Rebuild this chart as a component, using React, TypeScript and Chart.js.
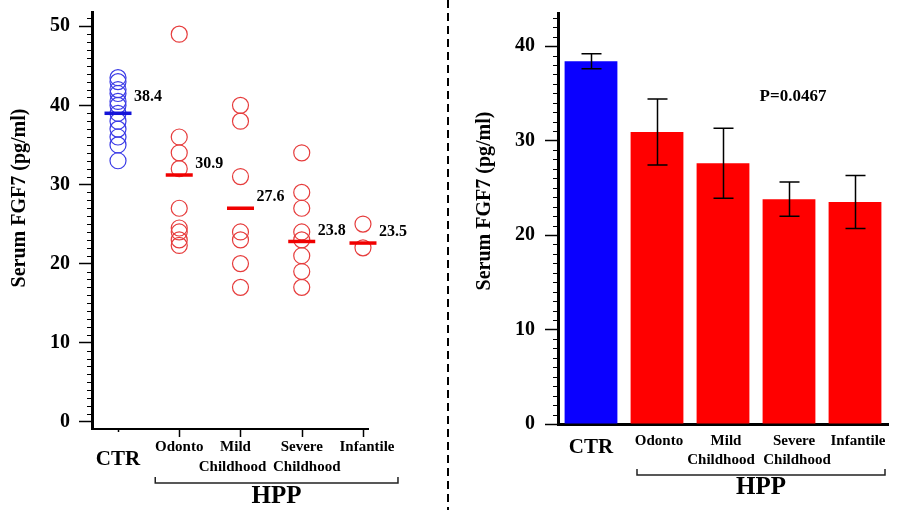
import React, { useEffect, useRef } from "react";
import { Chart, registerables } from "chart.js";

Chart.register(...registerables);

// ---------- data ----------
const groups = ["CTR", "Odonto", "Mild Childhood", "Severe Childhood", "Infantile"];
const groupLabelLines = [["CTR"], ["Odonto"], ["Mild", "Childhood"], ["Severe", "Childhood"], ["Infantile"]];
const hppLabel = "HPP";
const yTitle = "Serum FGF7 (pg/ml)";

const ctrValues = [43.5, 43, 42, 41.5, 40.5, 40, 39, 38, 37, 36, 35, 33];
const odontoValues = [49, 36, 34, 32, 27, 24.5, 24, 23, 22.3];
const mildValues = [40, 38, 31, 24, 23, 20, 17];
const severeValues = [34, 29, 27, 24, 23, 21, 19, 17];
const infantileValues = [25, 22];

const meanLineLevels = [39.0, 31.2, 27.0, 22.8, 22.6];
const barMeans = [38.4, 30.9, 27.6, 23.8, 23.5];
const barSEM = [0.8, 3.5, 3.7, 1.8, 2.8];
const pValueText = "P=0.0467";

const yTicksLeft = [0, 10, 20, 30, 40, 50];
const yTicksRight = [0, 10, 20, 30, 40];

// ---------- styles ----------
const FONT = '"Liberation Serif", "Times New Roman", serif';
const BLUE_PT = "#3a3ae6";
const RED_PT = "#e63c3c";
const BLUE_LINE = "#1414d8";
const RED_LINE = "#f00000";
const BLUE_BAR = "#0a00ff";
const RED_BAR = "#ff0000";

// small horizontal nudges of the label lines (line1, line2), per panel
const labelNudgeLeft = [
  [0, 0],
  [0, 0],
  [-5, -8],
  [0, 5],
  [4, 0],
];
const labelNudgeRight = [
  [0, 0],
  [2, 0],
  [3, -2],
  [5, 8],
  [3, 0],
];

function drawMinorTicks(chart: any, ctx: CanvasRenderingContext2D) {
  const y = chart.scales.y;
  const x0 = chart.chartArea.left;
  ctx.save();
  ctx.strokeStyle = "#000";
  ctx.lineWidth = 1;
  for (let v = Math.ceil(y.min); v <= Math.floor(y.max); v++) {
    if (v % 10 === 0) continue;
    const py = Math.round(y.getPixelForValue(v)) + 0.5;
    ctx.beginPath();
    ctx.moveTo(x0 - 5, py);
    ctx.lineTo(x0, py);
    ctx.stroke();
  }
  ctx.restore();
}

function drawYTitle(ctx: CanvasRenderingContext2D, cx: number, cy: number) {
  ctx.save();
  ctx.translate(cx, cy);
  ctx.rotate(-Math.PI / 2);
  ctx.font = `bold 20px ${FONT}`;
  ctx.fillStyle = "#000";
  ctx.textAlign = "center";
  ctx.textBaseline = "middle";
  ctx.fillText(yTitle, 0, 0);
  ctx.restore();
}

function drawXLabels(
  chart: any,
  ctx: CanvasRenderingContext2D,
  nudge: number[][],
  ctrY: number,
  line1Y: number,
  line2Y: number,
  bracketY: number,
  hppY: number,
  bracketLeftOff: number,
  bracketRightOff: number
) {
  const x = chart.scales.x;
  ctx.save();
  ctx.fillStyle = "#000";
  ctx.textAlign = "center";
  ctx.textBaseline = "middle";
  groupLabelLines.forEach((lines, i) => {
    const px = x.getPixelForValue(i);
    if (i === 0) {
      ctx.font = `bold 21px ${FONT}`;
      ctx.fillText(lines[0], px, ctrY);
    } else {
      ctx.font = `bold 15px ${FONT}`;
      lines.forEach((t, k) => ctx.fillText(t, px + nudge[i][k], k === 0 ? line1Y : line2Y));
    }
  });
  // bracket
  const bl = x.getPixelForValue(1) - bracketLeftOff;
  const br = x.getPixelForValue(4) + bracketRightOff;
  ctx.strokeStyle = "#222";
  ctx.lineWidth = 1.5;
  ctx.beginPath();
  ctx.moveTo(bl, bracketY - 6);
  ctx.lineTo(bl, bracketY);
  ctx.lineTo(br, bracketY);
  ctx.lineTo(br, bracketY - 6);
  ctx.stroke();
  ctx.font = `bold 25px ${FONT}`;
  ctx.fillText(hppLabel, (bl + br) / 2, hppY);
  ctx.restore();
}

const leftPlugin = {
  id: "leftDecor",
  afterDraw(chart: any) {
    const ctx = chart.ctx as CanvasRenderingContext2D;
    const x = chart.scales.x;
    const y = chart.scales.y;
    drawMinorTicks(chart, ctx);
    // x tick marks
    ctx.save();
    ctx.strokeStyle = "#000";
    ctx.lineWidth = 1.5;
    const by = chart.chartArea.bottom;
    groups.forEach((_, i) => {
      const px = Math.round(x.getPixelForValue(i)) + 0.5;
      ctx.beginPath();
      ctx.moveTo(px, by);
      ctx.lineTo(px, by + (i === 0 ? 3 : 8));
      ctx.stroke();
    });
    ctx.restore();
    // mean labels
    ctx.save();
    ctx.font = `bold 16px ${FONT}`;
    ctx.fillStyle = "#000";
    ctx.textAlign = "left";
    ctx.textBaseline = "middle";
    barMeans.forEach((m, i) => {
      const px = x.getPixelForValue(i) + 16;
      const py = y.getPixelForValue(meanLineLevels[i]) - (i === 0 ? 16 : 11);
      ctx.fillText(m.toFixed(1), px, py);
    });
    ctx.restore();
    drawYTitle(ctx, 20, 198);
    drawXLabels(chart, ctx, labelNudgeLeft, 460, 447, 467, 483, 497, 24, 35);
  },
};

const rightPlugin = {
  id: "rightDecor",
  afterDatasetsDraw(chart: any) {
    const ctx = chart.ctx as CanvasRenderingContext2D;
    const x = chart.scales.x;
    const y = chart.scales.y;
    ctx.save();
    ctx.strokeStyle = "#000";
    ctx.lineWidth = 1.5;
    barMeans.forEach((m, i) => {
      const px = Math.round(x.getPixelForValue(i)) + 0.5;
      const top = y.getPixelForValue(m + barSEM[i]);
      const bot = y.getPixelForValue(m - barSEM[i]);
      ctx.beginPath();
      ctx.moveTo(px, top);
      ctx.lineTo(px, bot);
      ctx.moveTo(px - 10, top);
      ctx.lineTo(px + 10, top);
      ctx.moveTo(px - 10, bot);
      ctx.lineTo(px + 10, bot);
      ctx.stroke();
    });
    ctx.restore();
  },
  afterDraw(chart: any) {
    const ctx = chart.ctx as CanvasRenderingContext2D;
    const x = chart.scales.x;
    const y = chart.scales.y;
    drawMinorTicks(chart, ctx);
    ctx.save();
    ctx.font = `bold 17px ${FONT}`;
    ctx.fillStyle = "#000";
    ctx.textAlign = "center";
    ctx.textBaseline = "middle";
    ctx.fillText(pValueText, x.getPixelForValue(3) + 4, y.getPixelForValue(34.6));
    ctx.restore();
    drawYTitle(ctx, 35, 201);
    drawXLabels(chart, ctx, labelNudgeRight, 448, 441, 460, 475, 488, 20, 30);
  },
};

const tickFont = { family: FONT, size: 20, weight: "bold" as const };

function LeftChart() {
  const ref = useRef<HTMLCanvasElement>(null);
  useEffect(() => {
    if (!ref.current) return;
    const hpp = [odontoValues, mildValues, severeValues, infantileValues];
    const hppPoints: { x: number; y: number }[] = [];
    hpp.forEach((arr, gi) => arr.forEach((v) => hppPoints.push({ x: gi + 1, y: v })));
    const chart = new Chart(ref.current, {
      type: "scatter",
      data: {
        datasets: [
          {
            label: "Mean",
            data: meanLineLevels.map((v, i) => ({ x: i, y: v })),
            pointStyle: "line",
            pointRadius: 13.5,
            pointBorderWidth: 3.5,
            pointBorderColor: meanLineLevels.map((_, i) => (i === 0 ? BLUE_LINE : RED_LINE)),
            backgroundColor: "transparent",
            clip: false,
          },
          {
            label: "CTR",
            data: ctrValues.map((v) => ({ x: 0, y: v })),
            pointStyle: "circle",
            pointRadius: 8,
            pointBorderWidth: 1.2,
            pointBorderColor: BLUE_PT,
            pointBackgroundColor: "transparent",
            clip: false,
          },
          {
            label: "HPP",
            data: hppPoints,
            pointStyle: "circle",
            pointRadius: 8,
            pointBorderWidth: 1.2,
            pointBorderColor: RED_PT,
            pointBackgroundColor: "transparent",
            clip: false,
          },
        ],
      },
      options: {
        animation: false,
        responsive: false,
        devicePixelRatio: 1,
        events: [],
        layout: { autoPadding: false, padding: { top: 12, right: 82, left: 0, bottom: 0 } },
        plugins: { legend: { display: false }, tooltip: { enabled: false } },
        scales: {
          x: {
            type: "linear",
            min: -0.4245,
            max: 4.082,
            ticks: { display: false },
            grid: { display: false },
            border: { display: true, width: 2, color: "#000" },
            afterFit: (s: any) => {
              s.height = 81;
              s.paddingLeft = 0;
              s.paddingRight = 0;
            },
          },
          y: {
            type: "linear",
            min: -0.9,
            max: 51.8,
            afterBuildTicks: (s: any) => {
              s.ticks = yTicksLeft.map((v) => ({ value: v }));
            },
            ticks: { font: tickFont, color: "#000", padding: 9 },
            grid: { drawOnChartArea: false, drawTicks: true, tickLength: 13, tickWidth: 1.5, tickColor: "#000" },
            border: { display: true, width: 3, color: "#000" },
            afterFit: (s: any) => {
              s.width = 92;
              s.paddingTop = 0;
              s.paddingBottom = 0;
            },
          },
        },
      },
      plugins: [leftPlugin],
    } as any);
    return () => chart.destroy();
  }, []);
  return <canvas ref={ref} width={450} height={510} />;
}

function RightChart() {
  const ref = useRef<HTMLCanvasElement>(null);
  useEffect(() => {
    if (!ref.current) return;
    const chart = new Chart(ref.current, {
      type: "bar",
      data: {
        labels: groups,
        datasets: [
          {
            label: "Serum FGF7",
            data: barMeans,
            backgroundColor: barMeans.map((_, i) => (i === 0 ? BLUE_BAR : RED_BAR)),
            borderWidth: 0,
            barPercentage: 0.8,
            categoryPercentage: 1,
          },
        ],
      },
      options: {
        animation: false,
        responsive: false,
        devicePixelRatio: 1,
        events: [],
        layout: { autoPadding: false, padding: { top: 13, right: 12, left: 0, bottom: 0 } },
        plugins: { legend: { display: false }, tooltip: { enabled: false } },
        scales: {
          x: {
            type: "category",
            ticks: { display: false },
            grid: { display: false },
            border: { display: true, width: 3, color: "#000" },
            afterFit: (s: any) => {
              s.height = 86;
              s.paddingLeft = 0;
              s.paddingRight = 0;
            },
          },
          y: {
            type: "linear",
            min: 0,
            max: 43.5,
            afterBuildTicks: (s: any) => {
              s.ticks = yTicksRight.map((v) => ({ value: v }));
            },
            ticks: { font: tickFont, color: "#000", padding: 10 },
            grid: { drawOnChartArea: false, drawTicks: true, tickLength: 13, tickWidth: 1.5, tickColor: "#000" },
            border: { display: true, width: 3, color: "#000" },
            afterFit: (s: any) => {
              s.width = 108;
              s.paddingTop = 0;
              s.paddingBottom = 0;
            },
          },
        },
      },
      plugins: [rightPlugin],
    } as any);
    return () => chart.destroy();
  }, []);
  return <canvas ref={ref} width={450} height={510} />;
}

export default function App() {
  return (
    <div style={{ position: "fixed", left: 0, top: 0, width: 900, height: 510, background: "#fff", overflow: "hidden" }}>
      <div style={{ position: "absolute", left: 0, top: 0, width: 450, height: 510 }}>
        <LeftChart />
      </div>
      <div style={{ position: "absolute", left: 450, top: 0, width: 450, height: 510 }}>
        <RightChart />
      </div>
      <div
        style={{
          position: "absolute",
          left: 447,
          top: 0,
          width: 2,
          height: 510,
          background: "repeating-linear-gradient(to bottom, #000 0px, #000 8px, transparent 8px, transparent 13px)",
        }}
      />
    </div>
  );
}
